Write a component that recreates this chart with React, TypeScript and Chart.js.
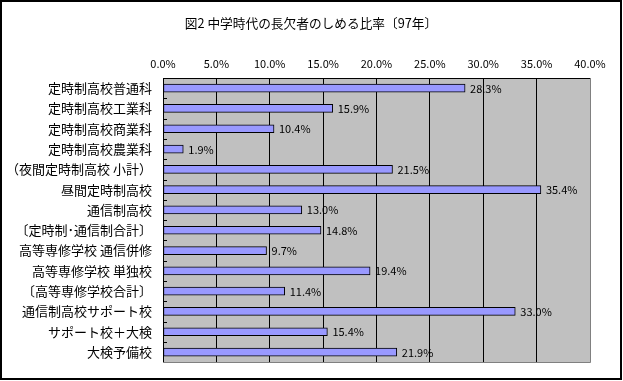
import React, { useEffect, useRef } from "react";
import { Chart, registerables } from "chart.js";

Chart.register(...registerables);

const TITLE = "図2 中学時代の長欠者のしめる比率〔97年〕";
const categories = [
  "定時制高校普通科",
  "定時制高校工業科",
  "定時制高校商業科",
  "定時制高校農業科",
  "（夜間定時制高校 小計）",
  "昼間定時制高校",
  "通信制高校",
  "〔定時制･通信制合計〕",
  "高等専修学校 通信併修",
  "高等専修学校 単独校",
  "〔高等専修学校合計〕",
  "通信制高校サポート校",
  "サポート校＋大検",
  "大検予備校",
];
const values = [28.3, 15.9, 10.4, 1.9, 21.5, 35.4, 13.0, 14.8, 9.7, 19.4, 11.4, 33.0, 15.4, 21.9];
const xMin = 0;
const xMax = 40;
const xStep = 5;

const FONT = "'Noto Sans CJK JP', 'Noto Sans', sans-serif";

const decorPlugin = {
  id: "decor",
  beforeDraw(chart: any) {
    const { ctx, chartArea: a } = chart;
    ctx.save();
    ctx.fillStyle = "#ffffff";
    ctx.fillRect(0, 0, chart.width, chart.height);
    ctx.fillStyle = "#C0C0C0";
    ctx.fillRect(a.left, a.top, a.right - a.left, a.bottom - a.top);
    ctx.restore();
  },
  afterDraw(chart: any) {
    const { ctx, chartArea: a } = chart;
    const yScale = chart.scales.y;
    ctx.save();
    // title
    ctx.fillStyle = "#000";
    ctx.font = `12.7px ${FONT}`;
    ctx.textAlign = "center";
    ctx.textBaseline = "middle";
    ctx.fillText(TITLE, 311, 23);
    // bottom & right plot border grey
    ctx.strokeStyle = "#808080";
    ctx.lineWidth = 1;
    ctx.beginPath();
    ctx.moveTo(a.left, Math.round(a.bottom) + 0.5);
    ctx.lineTo(Math.round(a.right) + 0.5, Math.round(a.bottom) + 0.5);
    ctx.lineTo(Math.round(a.right) + 0.5, a.top);
    ctx.stroke();
    // small category ticks inside plot
    ctx.strokeStyle = "#000";
    const n = categories.length;
    for (let i = 1; i < n; i++) {
      const yy = (yScale.getPixelForValue(i - 1) + yScale.getPixelForValue(i)) / 2;
      ctx.beginPath();
      ctx.moveTo(a.left, Math.round(yy) + 0.5);
      ctx.lineTo(a.left + 4, Math.round(yy) + 0.5);
      ctx.stroke();
    }
    // value labels
    ctx.fillStyle = "#000";
    ctx.font = `11px ${FONT}`;
    ctx.textBaseline = "alphabetic";
    ctx.textAlign = "left";
    const meta = chart.getDatasetMeta(0);
    meta.data.forEach((bar: any, i: number) => {
      ctx.fillText(values[i].toFixed(1) + "%", bar.x + 5, bar.y + 4.5);
    });
    // outer border
    ctx.strokeStyle = "#000";
    ctx.lineWidth = 2;
    ctx.strokeRect(1, 1, 620, 378);
    ctx.restore();
  },
};

export default function App() {
  const ref = useRef<HTMLCanvasElement | null>(null);
  useEffect(() => {
    if (!ref.current) return;
    const chart = new Chart(ref.current, {
      type: "bar",
      data: {
        labels: categories,
        datasets: [
          {
            data: values,
            backgroundColor: "#9999FF",
            borderColor: "#000000",
            borderWidth: 1,
            barThickness: 8,
            borderSkipped: false,
          },
        ],
      },
      options: {
        animation: false,
        responsive: false,
        indexAxis: "y",
        layout: { padding: { left: 0, right: 33, top: 38, bottom: 16 } },
        plugins: {
          legend: { display: false },
          tooltip: { enabled: false },
          title: { display: false },
        },
        scales: {
          x: {
            position: "top",
            min: xMin,
            max: xMax,
            ticks: {
              stepSize: xStep,
              color: "#000",
              font: { family: FONT, size: 11 },
              padding: 8,
              callback: (v: any) => Number(v).toFixed(1) + "%",
            },
            grid: {
              drawTicks: false,
              color: (c: any) => (c.tick && c.tick.value === xMax ? "#808080" : "#000"),
              lineWidth: 1,
            },
            border: { display: true, color: "#000" },
            afterFit: (s: any) => {
              s.height = 40;
            },
          },
          y: {
            ticks: {
              color: "#000",
              font: { family: FONT, size: 13 },
              padding: 11,
              autoSkip: false,
            },
            grid: { display: false, drawTicks: false },
            border: { display: true, color: "#000" },
            afterFit: (s: any) => {
              s.width = 163;
            },
          },
        },
      },
      plugins: [decorPlugin],
    } as any);
    return () => chart.destroy();
  }, []);
  return (
    <div style={{ position: "absolute", left: 0, top: 0, width: 623, height: 381 }}>
      <canvas ref={ref} width={623} height={381} style={{ display: "block" }} />
    </div>
  );
}
